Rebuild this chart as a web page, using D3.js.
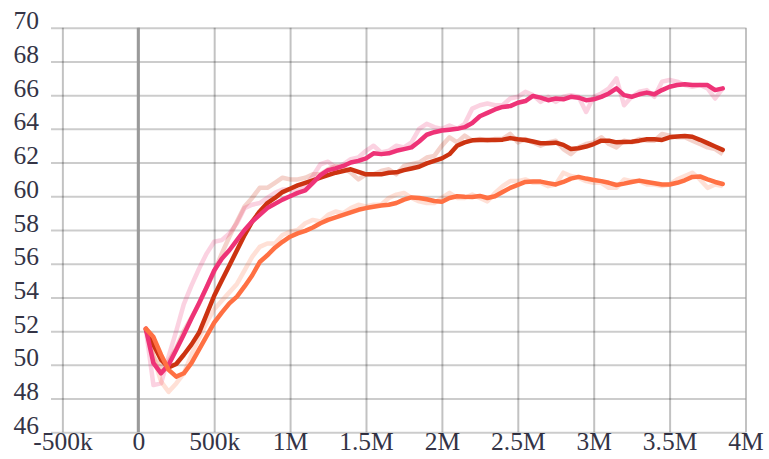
<!DOCTYPE html>
<html>
<head>
<meta charset="utf-8">
<script src="https://cdn.jsdelivr.net/npm/d3@7"></script>
<style>
  html, body { margin: 0; padding: 0; background: #fff; }
  svg { display: block; }
</style>
</head>
<body>
<svg id="chart" width="769" height="459"></svg>
<script>
// Training steps, in thousands
const stepsK = [50, 100, 150, 200, 250, 300, 350, 400, 450, 500,
  550, 600, 650, 700, 750, 800, 850, 900, 950, 1000,
  1050, 1100, 1150, 1200, 1250, 1300, 1350, 1400, 1450, 1500,
  1550, 1600, 1650, 1700, 1750, 1800, 1850, 1900, 1950, 2000,
  2050, 2100, 2150, 2200, 2250, 2300, 2350, 2400, 2450, 2500,
  2550, 2600, 2650, 2700, 2750, 2800, 2850, 2900, 2950, 3000,
  3050, 3100, 3150, 3200, 3250, 3300, 3350, 3400, 3450, 3500,
  3550, 3600, 3650, 3700, 3750, 3800, 3850];

// Run A (pink): raw and smoothed values
const rawA = [52.1, 48.8, 48.9, 50.5, 52.0, 53.6, 54.7, 55.7, 56.6, 57.3,
  57.4, 57.8, 58.4, 59.3, 59.5, 59.6, 59.9, 60.2, 60.4, 60.4,
  60.3, 60.6, 61.2, 61.9, 62.05, 61.7, 61.9, 62.2, 62.3, 62.7,
  63.0, 62.6, 62.7, 63.0, 62.9, 63.2, 64.0, 64.3, 64.1, 64.0,
  64.2, 64.0, 64.3, 65.2, 65.4, 65.5, 65.4, 65.4, 65.8, 65.9,
  66.2, 66.0, 65.6, 65.9, 65.6, 65.9, 66.0, 65.9, 65.0, 65.9,
  66.1, 66.4, 67.0, 65.4, 65.9, 66.2, 66.3, 65.9, 66.8, 66.9,
  66.8, 66.6, 66.5, 66.6, 66.4, 65.8, 66.4];
const smoothA = [52.15, 50.1, 49.5, 50.0, 50.9, 51.8, 52.75, 53.65, 54.6, 55.6,
  56.3, 56.8, 57.4, 58.0, 58.5, 58.9, 59.3, 59.55, 59.8, 60.0,
  60.2, 60.35, 60.8, 61.25, 61.55, 61.65, 61.8, 62.0, 62.1, 62.25,
  62.55, 62.5, 62.55, 62.7, 62.8, 62.9, 63.25, 63.65, 63.8, 63.9,
  63.95, 64.0, 64.1, 64.35, 64.75, 64.95, 65.15, 65.3, 65.35, 65.55,
  65.65, 65.95, 65.85, 65.7, 65.8, 65.75, 65.9, 65.85, 65.7, 65.75,
  65.9, 66.1, 66.4, 66.0, 65.9, 66.05, 66.15, 66.05, 66.3, 66.5,
  66.6, 66.65, 66.6, 66.6, 66.6, 66.3, 66.4];

// Run B (dark red)
const rawB = [52.1, 50.5, 49.8, 50.2, 51.0, 52.0, 52.8, 53.6, 54.6, 55.5,
  56.6, 57.6, 58.5, 59.4, 59.9, 60.5, 60.5, 60.8, 61.1, 61.0,
  61.0, 61.1, 61.3, 61.3, 61.6, 61.8, 61.7, 61.4, 61.0, 61.3,
  61.3, 61.5, 61.6, 61.3, 61.8, 61.9, 62.0, 62.3, 62.4, 63.0,
  63.5, 63.2, 63.6, 63.3, 63.4, 63.3, 63.4, 63.4, 63.7, 63.2,
  63.4, 63.2, 63.0, 63.2, 63.3, 62.8, 62.5, 62.9, 63.1, 63.2,
  63.5, 63.1, 62.9, 63.3, 63.2, 63.4, 63.3, 63.3, 63.7, 63.6,
  63.5, 63.5, 63.3, 63.1, 62.9, 62.8, 62.5];
const smoothB = [52.1, 51.2, 50.3, 49.85, 50.05, 50.6, 51.2, 51.9, 53.0, 54.1,
  55.0, 55.9, 56.8, 57.7, 58.5, 59.1, 59.6, 59.9, 60.25, 60.45,
  60.65, 60.8, 60.95, 61.1, 61.25, 61.4, 61.5, 61.6, 61.45, 61.3,
  61.3, 61.3, 61.4, 61.42, 61.55, 61.65, 61.75, 61.95, 62.1, 62.25,
  62.5, 63.0, 63.2, 63.32, 63.34, 63.34, 63.34, 63.36, 63.45, 63.38,
  63.34, 63.25, 63.15, 63.15, 63.18, 63.05, 62.8, 62.85, 62.95, 63.1,
  63.3, 63.3, 63.2, 63.22, 63.24, 63.3, 63.38, 63.38, 63.34, 63.5,
  63.55, 63.57, 63.53, 63.35, 63.15, 62.95, 62.75];

// Run C (orange)
const rawC = [52.1, 50.5, 49.0, 48.4, 48.9, 49.5, 50.6, 51.6, 52.5, 53.3,
  53.8, 54.3, 54.8, 55.6, 56.4, 57.0, 57.2, 57.2, 57.7, 57.9,
  58.0, 58.4, 58.6, 58.5, 58.9, 59.1, 59.0, 59.3, 59.5, 59.4,
  59.5, 59.5, 59.9, 60.1, 60.2, 59.9, 59.7, 59.6, 59.6, 59.9,
  60.2, 59.9, 59.9, 60.1, 59.9, 59.7, 60.2, 60.6, 60.9, 60.9,
  61.0, 60.8, 60.8, 60.6, 60.7, 61.4, 61.2, 61.1, 60.9, 60.8,
  60.8, 60.5, 60.5, 61.0, 60.9, 60.9, 60.7, 60.7, 60.6, 60.7,
  61.0, 61.2, 61.4, 61.0, 60.5, 60.7, 60.6];
const smoothC = [52.15, 51.65, 50.6, 49.7, 49.3, 49.5, 50.1, 50.9, 51.7, 52.5,
  53.1, 53.65, 54.05, 54.65, 55.3, 56.1, 56.5, 56.95, 57.3, 57.6,
  57.8, 57.95, 58.15, 58.4, 58.6, 58.75, 58.9, 59.05, 59.2, 59.3,
  59.38, 59.45, 59.5, 59.6, 59.8, 59.93, 59.9, 59.82, 59.72, 59.68,
  59.9, 60.0, 59.97, 59.96, 60.02, 59.9, 60.0, 60.25, 60.5, 60.68,
  60.85, 60.87, 60.87, 60.78, 60.7, 60.85, 61.05, 61.15, 61.05, 60.97,
  60.9, 60.8, 60.67, 60.75, 60.85, 60.93, 60.85, 60.77, 60.7, 60.7,
  60.8, 60.95, 61.15, 61.18, 61.0, 60.85, 60.73];

// Axis ticks
const xTicks = [-500, 0, 500, 1000, 1500, 2000, 2500, 3000, 3500, 4000];
const xTickLabels = ["-500k", "0", "500k", "1M", "1.5M", "2M", "2.5M", "3M", "3.5M", "4M"];
const yTicks = [46, 48, 50, 52, 54, 56, 58, 60, 62, 64, 66, 68, 70];

const runs = [
  { name: "B", color: "#cc3311", raw: rawB, smooth: smoothB },
  { name: "A", color: "#ee3377", raw: rawA, smooth: smoothA },
  { name: "C", color: "#ff7043", raw: rawC, smooth: smoothC }
];

const svg = d3.select("#chart");
const plotLeft = 51, plotRight = 745.5, plotTop = 27.7, plotBottom = 432.3;

const x = d3.scaleLinear().domain([-575, 4000]).range([plotLeft, plotRight]);
const y = d3.scaleLinear().domain([46, 70]).range([plotBottom, plotTop]);

const fontFamily = "'Liberation Serif', 'Times New Roman', serif";
const textColor = "#343446";

// Vertical grid + x labels
const gx = svg.append("g")
  .attr("transform", `translate(0,${plotBottom})`)
  .call(d3.axisBottom(x)
    .tickValues(xTicks)
    .tickSize(-(plotBottom - plotTop))
    .tickFormat((d, i) => xTickLabels[i]));
gx.select(".domain").remove();
gx.selectAll(".tick line")
  .attr("stroke", "rgba(0,0,0,0.24)")
  .attr("stroke-width", 2);
gx.selectAll(".tick text")
  .attr("y", 18)
  .attr("dy", null)
  .attr("fill", textColor)
  .style("font-family", fontFamily)
  .style("font-size", "25.5px");

// Horizontal grid + y labels
const gy = svg.append("g")
  .attr("transform", `translate(${plotLeft},0)`)
  .call(d3.axisLeft(y)
    .tickValues(yTicks)
    .tickSize(-(plotRight - plotLeft)));
gy.select(".domain").remove();
gy.selectAll(".tick line")
  .attr("stroke", "rgba(0,0,0,0.2)")
  .attr("stroke-width", 2);
gy.selectAll(".tick text")
  .attr("x", -12)
  .attr("dy", "1")
  .attr("fill", textColor)
  .style("font-family", fontFamily)
  .style("font-size", "25.5px");

// Zero step marker
svg.append("line")
  .attr("x1", x(0)).attr("x2", x(0))
  .attr("y1", y(70)).attr("y2", y(46))
  .attr("stroke", "#9a9a9a")
  .attr("stroke-width", 3);

const line = d3.line()
  .x((d, i) => x(stepsK[i]))
  .y(d => y(d));

// Raw traces underneath
svg.append("g").selectAll("path")
  .data(runs)
  .join("path")
  .attr("d", r => line(r.raw))
  .attr("fill", "none")
  .attr("stroke", r => r.color)
  .attr("stroke-opacity", 0.22)
  .attr("stroke-width", 4.5)
  .attr("stroke-linejoin", "round");

// Smoothed traces on top
svg.append("g").selectAll("path")
  .data(runs)
  .join("path")
  .attr("d", r => line(r.smooth))
  .attr("fill", "none")
  .attr("stroke", r => r.color)
  .attr("stroke-width", 4.5)
  .attr("stroke-linejoin", "round")
  .attr("stroke-linecap", "round");
</script>
</body>
</html>
